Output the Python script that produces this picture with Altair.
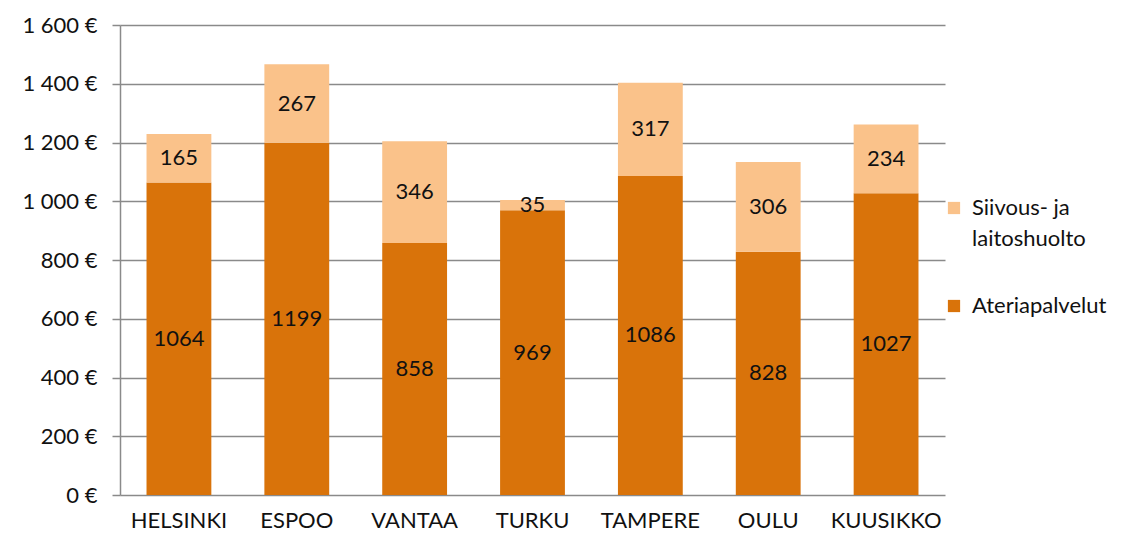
import altair as alt
import pandas as pd

cities = ["HELSINKI", "ESPOO", "VANTAA", "TURKU", "TAMPERE", "OULU", "KUUSIKKO"]
ateria = [1064, 1199, 858, 969, 1086, 828, 1027]
siivous = [165, 267, 346, 35, 317, 306, 234]
series = ["Siivous- ja laitoshuolto", "Ateriapalvelut"]
colors = ["#FAC28A", "#D9730A"]
y_ticks = [0, 200, 400, 600, 800, 1000, 1200, 1400, 1600]

rows = []
for c, a, s in zip(cities, ateria, siivous):
    rows.append({"city": c, "series": "Ateriapalvelut", "value": a, "order": 0, "mid": a / 2})
    rows.append({"city": c, "series": "Siivous- ja laitoshuolto", "value": s, "order": 1, "mid": a + s / 2})
df = pd.DataFrame(rows)

FONT = "Lato"
FS = 22

x = alt.X("city:N", sort=cities, title=None,
          scale=alt.Scale(paddingInner=0.45, paddingOuter=0.225),
          axis=alt.Axis(labelAngle=0, labelFontSize=FS, labelFont=FONT, labelColor="#111",
                        ticks=False, domain=False, labelPadding=15))

bars = alt.Chart(df).mark_bar().encode(
    x=x,
    y=alt.Y("value:Q", stack="zero", title=None,
            scale=alt.Scale(domain=[0, 1600]),
            axis=alt.Axis(values=y_ticks, tickSize=8, tickColor="#8a8a8a", tickWidth=1.5,
                          gridColor="#8a8a8a", gridWidth=1.5, domainColor="#8a8a8a", domainWidth=1.5,
                          labelFontSize=FS, labelFont=FONT, labelColor="#111", labelPadding=15,
                          labelExpr="replace(format(datum.value, ',d'), ',', ' ') + ' €'")),
    color=alt.Color("series:N", sort=series,
                    scale=alt.Scale(domain=series, range=colors),
                    legend=alt.Legend(title=None, orient="none", legendX=823, legendY=172,
                                      symbolType="square", symbolSize=150, symbolStrokeWidth=0,
                                      labelFontSize=FS, labelFont=FONT, labelColor="#111",
                                      rowPadding=45, labelLimit=300, labelOffset=7,
                                      labelExpr="datum.label == 'Siivous- ja laitoshuolto' ? ['Siivous- ja', 'laitoshuolto'] : datum.label")),
    order=alt.Order("order:Q", sort="ascending"),
)

labels = alt.Chart(df).mark_text(fontSize=FS, font=FONT, color="#111").encode(
    x=alt.X("city:N", sort=cities),
    y=alt.Y("mid:Q"),
    text=alt.Text("value:Q"),
)

chart = alt.layer(bars, labels).properties(
    width=825, height=470,
    autosize=alt.AutoSizeParams(type="none"),
    padding={"left": 112, "top": 17, "right": 172, "bottom": 43},
).configure(
    style={"guide-label": {"lineHeight": 31}}
).configure_view(stroke=None).configure_axis(gridOpacity=1)

chart.save("out.html", embed_options={"renderer": "svg", "actions": False})
